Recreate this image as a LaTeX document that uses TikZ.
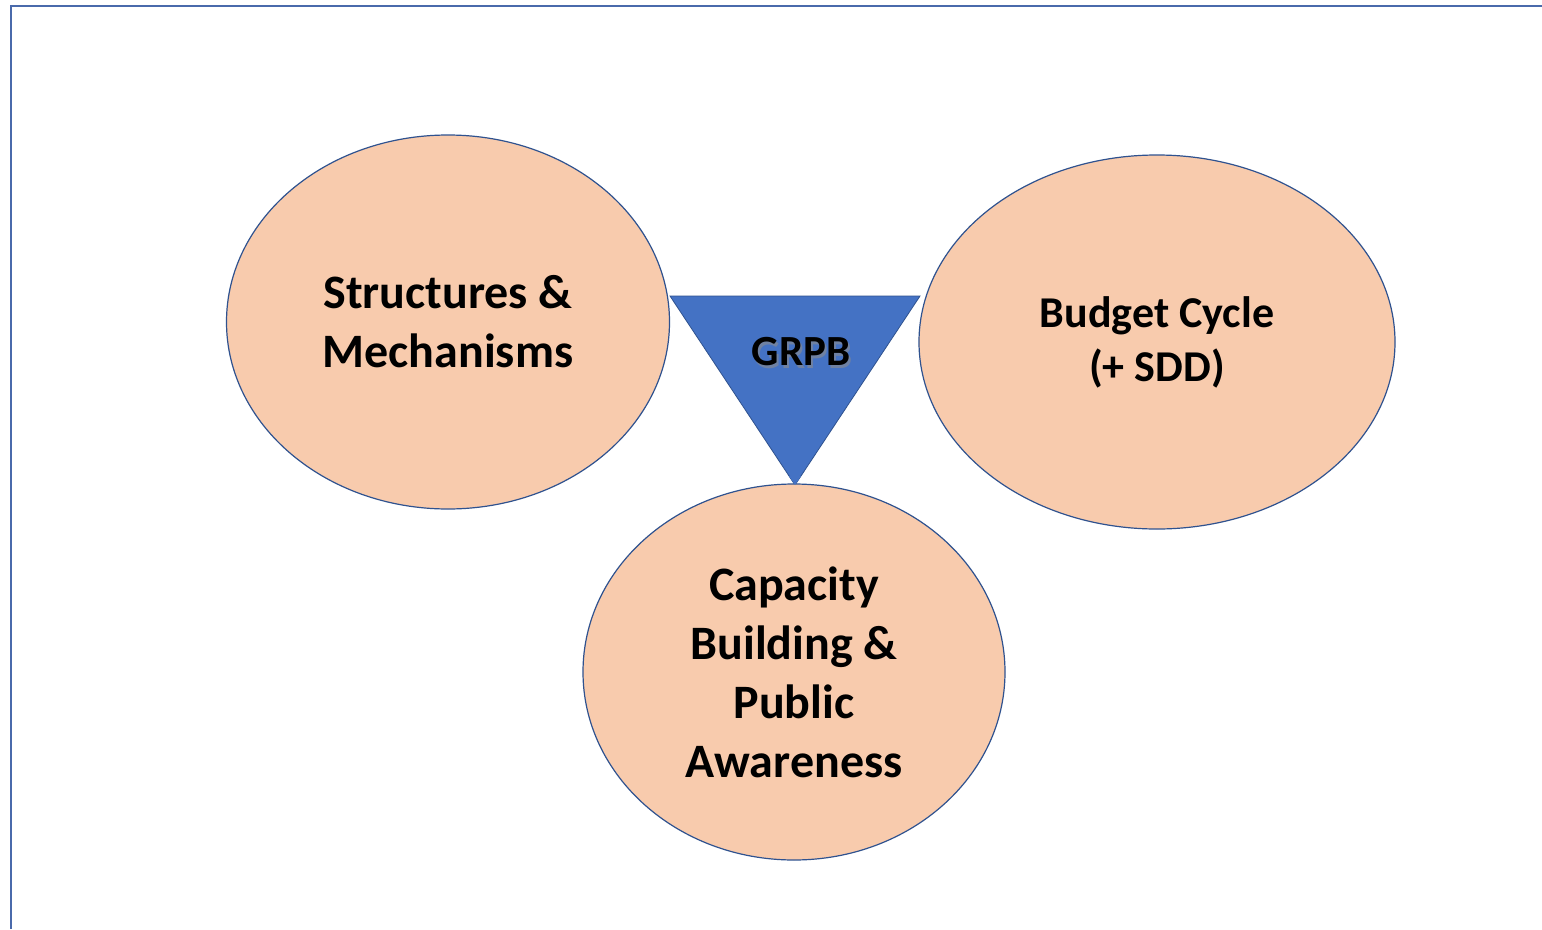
\documentclass[tikz,border=0pt]{standalone}
\usepackage{fontspec}
\setmainfont{Carlito}
\usepackage{tikz}
\usetikzlibrary{shapes.geometric, positioning, calc}
\definecolor{frameblue}{HTML}{4A6AAB}
\definecolor{edgeblue}{HTML}{2F528F}
\definecolor{grpbblue}{HTML}{4472C4}
\definecolor{peach}{HTML}{F8CBAD}

\tikzset{
  pillar/.style={ellipse, draw=edgeblue, line width=1.2pt, fill=peach, inner sep=0pt,
    align=center, font=\fontsize{48}{59}\selectfont\bfseries},
}

\begin{document}
\begin{tikzpicture}[x=1pt, y=-1pt]
  \useasboundingbox (0,0) rectangle (1542,929);
  \fill[white] (0,0) rectangle (1542,929);

  % outer frame (cut at right and bottom)
  \draw[frameblue, line width=2.5pt] (11,929) -- (11,6) -- (1542,6);

  % centre triangle
  \coordinate (tl) at (670,296);
  \coordinate (tr) at (920,296);
  \coordinate (tb) at (795,485);
  \filldraw[fill=grpbblue, draw=edgeblue, line width=0.8pt] (tl) -- (tr) -- (tb) -- cycle;
  \node[black!45, opacity=0.6, font=\fontsize{43}{43}\selectfont\bfseries] at (803,355) {GRPB};
  \node (grpb) [black, font=\fontsize{43}{43}\selectfont\bfseries] at (801,352) {GRPB};

  % three pillars
  \node (struct) [pillar, minimum width=443pt, minimum height=374pt] at (448,322)
    {Structures \&\\Mechanisms};
  \node (budget) [pillar, minimum width=476pt, minimum height=374pt,
    font=\fontsize{44}{54}\selectfont\bfseries] at (1157,342)
    {Budget Cycle\\(+ SDD)};
  \node (capac) [pillar, minimum width=422pt, minimum height=376pt] at (794,672)
    {Capacity\\Building \&\\Public\\Awareness};

  % redraw triangle tip over the bottom pillar
  \fill[grpbblue] ($(tb)+(-6,-9)$) -- ($(tb)+(6,-9)$) -- (tb) -- cycle;
\end{tikzpicture}
\end{document}
